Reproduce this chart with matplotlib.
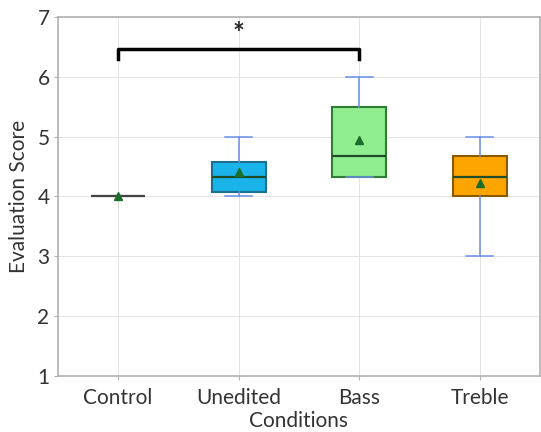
import matplotlib
matplotlib.use("Agg")
import matplotlib.pyplot as plt

categories = ["Control", "Unedited", "Bass", "Treble"]
whislo = [4.0, 4.0, 4.33, 3.0]
q1 = [4.0, 4.08, 4.33, 4.0]
med = [4.0, 4.33, 4.67, 4.33]
q3 = [4.0, 4.58, 5.5, 4.67]
whishi = [4.0, 5.0, 6.0, 5.0]
means = [4.0, 4.4, 4.95, 4.22]
box_colors = ["#87ceeb", "#1ab4ea", "#90ee90", "#ffa500"]
edge_colors = ["#555555", "#1a6f8f", "#2e7d32", "#8a5a00"]
sig_pair = (0, 2)
sig_label = "*"

plt.rcParams['font.family'] = ['Lato', 'DejaVu Sans']

fig = plt.figure(figsize=(5.41, 4.32), dpi=100)
ax = fig.add_axes([0.107, 0.130, 0.891, 0.831])

stats = []
for i in range(len(categories)):
    stats.append(dict(label=categories[i], whislo=whislo[i], q1=q1[i], med=med[i],
                      q3=q3[i], whishi=whishi[i], mean=means[i], fliers=[]))

bp = ax.bxp(stats, positions=range(len(categories)), widths=0.45, patch_artist=True,
            showmeans=True,
            meanprops=dict(marker="^", markerfacecolor="#1b6e2a", markeredgecolor="#1b6e2a", markersize=6),
            medianprops=dict(color="#1f4d2a", linewidth=1.6),
            whiskerprops=dict(color="#6a8fe8", linewidth=1.1),
            capprops=dict(color="#6a8fe8", linewidth=1.1))
for patch, fc, ec in zip(bp['boxes'], box_colors, edge_colors):
    patch.set_facecolor(fc)
    patch.set_edgecolor(ec)
    patch.set_linewidth(1.5)
bp['medians'][0].set_color("#444444")

ax.set_xlim(-0.5, 3.5)
ax.set_ylim(1, 7)
ax.set_yticks([1, 2, 3, 4, 5, 6, 7])
ax.grid(True, color="#e4e4e4", linewidth=0.7)
ax.set_axisbelow(True)
for s in ax.spines.values():
    s.set_color("#b0b0b0")
    s.set_linewidth(1.2)
ax.tick_params(colors="#b0b0b0", labelcolor="#333333", labelsize=15, length=3, pad=3)
ax.tick_params(axis="x", pad=6)

ax.set_xlabel("Conditions", fontsize=15, color="#333333", labelpad=2)
ax.set_ylabel("Evaluation Score", fontsize=15, color="#333333", labelpad=6)

x0, x1 = sig_pair
ytop, yleg = 6.47, 6.3
ax.plot([x0, x0, x1, x1], [yleg, ytop, ytop, yleg], color="black", linewidth=2.5)
ax.text((x0 + x1) / 2, ytop + 0.03, sig_label, ha="center", va="bottom", fontsize=20,
        fontweight="bold", color="#222222")

fig.savefig("out.png", dpi=100)
